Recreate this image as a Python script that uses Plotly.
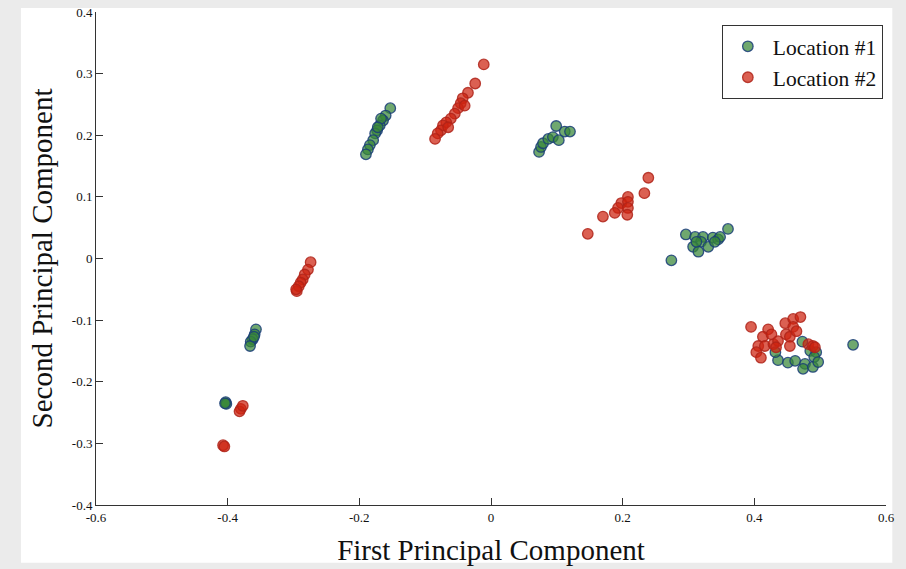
import plotly.graph_objects as go

# Location #1 (green)
loc1_x = [-0.403, -0.402, -0.404,
          -0.357, -0.359, -0.362, -0.365, -0.366, -0.360,
          -0.153, -0.160, -0.164, -0.169, -0.173, -0.176, -0.179, -0.184, -0.187, -0.190, -0.167, -0.172,
          0.073, 0.076, 0.079, 0.087, 0.094, 0.099, 0.103, 0.112, 0.120,
          0.296, 0.310, 0.322, 0.319, 0.307, 0.315, 0.330, 0.337, 0.345, 0.348, 0.360, 0.274, 0.312, 0.340,
          0.473, 0.485, 0.494, 0.491, 0.436, 0.451, 0.462, 0.477, 0.474, 0.489, 0.497, 0.550, 0.432]
loc1_y = [-0.233, -0.236, -0.235,
          -0.115, -0.123, -0.131, -0.135, -0.142, -0.127,
          0.244, 0.232, 0.224, 0.216, 0.208, 0.203, 0.192, 0.184, 0.177, 0.169, 0.227, 0.213,
          0.173, 0.181, 0.187, 0.194, 0.197, 0.215, 0.192, 0.206, 0.206,
          0.039, 0.035, 0.035, 0.027, 0.019, 0.011, 0.019, 0.034, 0.031, 0.035, 0.048, -0.003, 0.027, 0.027,
          -0.135, -0.150, -0.152, -0.160, -0.165, -0.169, -0.166, -0.171, -0.179, -0.176, -0.168, -0.140, -0.152]

# Location #2 (red)
loc2_x = [-0.407, -0.405,
          -0.380, -0.382, -0.377,
          -0.274, -0.278, -0.283, -0.286, -0.289, -0.292, -0.295, -0.296,
          -0.011, -0.024, -0.035, -0.043, -0.046, -0.050, -0.055, -0.061, -0.068, -0.073, -0.076, -0.081, -0.085, -0.040, -0.065,
          0.239, 0.233, 0.208, 0.198, 0.208, 0.193, 0.208, 0.188, 0.207, 0.170, 0.147,
          0.395, 0.421, 0.413, 0.426, 0.406, 0.416, 0.403, 0.410, 0.429, 0.436, 0.433, 0.447, 0.459, 0.470,
          0.459, 0.448, 0.454, 0.464, 0.454, 0.482, 0.489, 0.492]
loc2_y = [-0.303, -0.305,
          -0.244, -0.248, -0.239,
          -0.006, -0.018, -0.026, -0.034, -0.039, -0.045, -0.053, -0.050,
          0.315, 0.284, 0.269, 0.260, 0.252, 0.244, 0.235, 0.227, 0.221, 0.216, 0.208, 0.203, 0.194, 0.248, 0.213,
          0.131, 0.106, 0.100, 0.090, 0.092, 0.082, 0.082, 0.074, 0.071, 0.068, 0.040,
          -0.111, -0.115, -0.127, -0.123, -0.142, -0.142, -0.152, -0.161, -0.139, -0.134, -0.144, -0.105, -0.098, -0.095,
          -0.111, -0.123, -0.127, -0.118, -0.142, -0.139, -0.142, -0.144]

x_ticks = [-0.6, -0.4, -0.2, 0, 0.2, 0.4, 0.6]
x_tick_labels = ["-0.6", "-0.4", "-0.2", "0", "0.2", "0.4", "0.6"]
y_ticks = [-0.4, -0.3, -0.2, -0.1, 0, 0.1, 0.2, 0.3, 0.4]
y_tick_labels = ["-0.4", "-0.3", "-0.2", "-0.1", "0", "0.1", "0.2", "0.3", "0.4"]

serif = "Liberation Serif, Times New Roman, serif"

fig = go.Figure()
fig.add_trace(go.Scatter(
    x=loc1_x, y=loc1_y, mode="markers", name="Location #1",
    marker=dict(size=10.5, color="rgba(55,135,55,0.72)",
                line=dict(color="rgba(25,60,120,0.85)", width=1.3)),
))
fig.add_trace(go.Scatter(
    x=loc2_x, y=loc2_y, mode="markers", name="Location #2",
    marker=dict(size=10.5, color="rgba(205,35,15,0.72)",
                line=dict(color="rgba(175,35,25,0.85)", width=1.3)),
))

fig.update_layout(
    width=906, height=569,
    margin=dict(l=96, r=20, t=12, b=64),
    paper_bgcolor="#ebebeb",
    plot_bgcolor="white",
    font=dict(family=serif, color="#111"),
    showlegend=True,
    legend=dict(
        x=0.996, y=0.974, xanchor="right", yanchor="top",
        bgcolor="white", bordercolor="#333", borderwidth=1,
        font=dict(family=serif, size=21.5, color="#111"),
        itemwidth=40, tracegroupgap=0,
    ),
    shapes=[dict(type="rect", xref="paper", yref="paper",
                 x0=-0.095, x1=1.008, y0=-0.117, y1=1.008,
                 fillcolor="white", line=dict(width=0), layer="below")],
)
fig.update_xaxes(
    range=[-0.6, 0.6], tickvals=x_ticks, ticktext=x_tick_labels, automargin=False,
    showgrid=False, zeroline=False, showline=True, linecolor="#333", linewidth=1,
    ticks="inside", ticklen=7, tickcolor="#333",
    tickfont=dict(family=serif, size=13, color="#111"),
    title=dict(text="First Principal Component", font=dict(family=serif, size=29, color="#111"), standoff=16),
)
fig.update_yaxes(
    range=[-0.4, 0.4], tickvals=y_ticks, ticktext=y_tick_labels, automargin=False,
    showgrid=False, zeroline=False, showline=True, linecolor="#333", linewidth=1,
    ticks="inside", ticklen=7, tickcolor="#333",
    tickfont=dict(family=serif, size=13, color="#111"),
    title=dict(text="Second Principal Component", font=dict(family=serif, size=29, color="#111"), standoff=10),
)

fig.write_html("out.html", config={"displayModeBar": False},
               post_script="document.body.style.margin='0';")
